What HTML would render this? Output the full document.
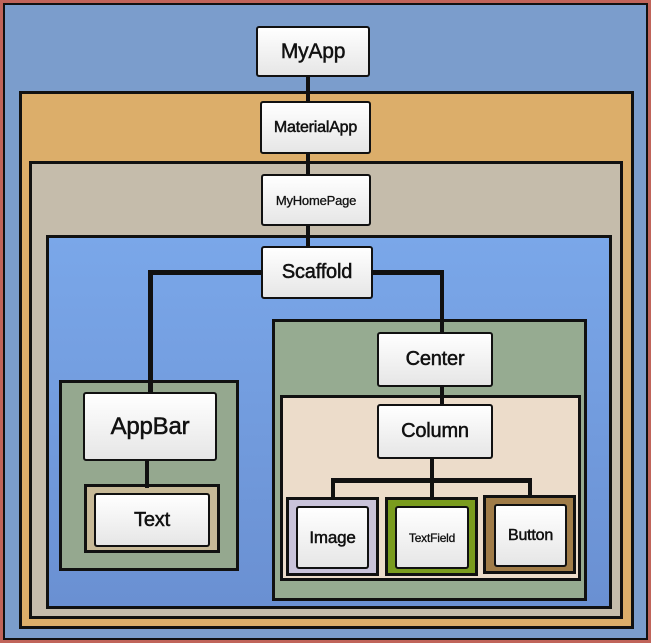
<!DOCTYPE html>
<html><head><meta charset="utf-8"><style>
html,body{margin:0;padding:0;}
body{width:651px;height:643px;position:relative;background:#c0645a;overflow:hidden;font-family:"Liberation Sans",sans-serif;}
.r{position:absolute;box-sizing:border-box;border:3px solid #111;}
.b{position:absolute;box-sizing:border-box;border:2px solid #111;border-radius:3px;background:linear-gradient(#ffffff,#e6e6e6);display:flex;align-items:center;justify-content:center;color:#111;font-weight:normal;-webkit-text-stroke:0.5px #111;letter-spacing:-0.2px;}
.l{position:absolute;background:#111;}
</style></head><body>
<div class="r" style="left:3px;top:3px;width:645px;height:637px;background:#7b9dcc;border-width:2px;"></div>
<div class="r" style="left:19px;top:91px;width:615px;height:538px;background:#dcae6a;"></div>
<div class="r" style="left:29px;top:161px;width:594px;height:458px;background:#c5bcab;"></div>
<div class="r" style="left:46px;top:235px;width:566px;height:374px;background:linear-gradient(#7aa7e9,#6a90d2);"></div>
<div class="r" style="left:59px;top:380px;width:180px;height:191px;background:#95a88f;"></div>
<div class="r" style="left:84px;top:484px;width:136px;height:69px;background:#c7b997;"></div>
<div class="r" style="left:272px;top:319px;width:315px;height:282px;background:#96ab91;"></div>
<div class="r" style="left:280px;top:395px;width:301px;height:186px;background:#ecdcca;"></div>
<div class="r" style="left:286px;top:497px;width:93px;height:79px;background:#c9c3da;"></div>
<div class="r" style="left:385px;top:497px;width:93px;height:79px;background:#7a9c1e;"></div>
<div class="r" style="left:483px;top:495px;width:93px;height:79px;background:#a07c48;"></div>
<!-- lines -->
<div class="l" style="left:306px;top:75px;width:4px;height:30px;"></div>
<div class="l" style="left:306px;top:152px;width:4px;height:26px;"></div>
<div class="l" style="left:306px;top:224px;width:4px;height:25px;"></div>
<div class="l" style="left:148px;top:270px;width:116px;height:5px;"></div>
<div class="l" style="left:148px;top:270px;width:5px;height:125px;"></div>
<div class="l" style="left:370px;top:270px;width:74px;height:5px;"></div>
<div class="l" style="left:440px;top:270px;width:4px;height:66px;"></div>
<div class="l" style="left:145px;top:458px;width:4px;height:30px;"></div>
<div class="l" style="left:440px;top:385px;width:4px;height:22px;"></div>
<div class="l" style="left:430px;top:456px;width:4px;height:44px;"></div>
<div class="l" style="left:331px;top:478px;width:201px;height:5px;"></div>
<div class="l" style="left:331px;top:478px;width:4px;height:22px;"></div>
<div class="l" style="left:528px;top:478px;width:4px;height:20px;"></div>
<!-- boxes -->
<div class="b" style="left:256px;top:26px;width:114px;height:51px;font-size:21px;">MyApp</div>
<div class="b" style="left:260px;top:101px;width:111px;height:53px;font-size:16px;">MaterialApp</div>
<div class="b" style="left:261px;top:174px;width:110px;height:52px;font-size:13px;-webkit-text-stroke:0.3px #111;">MyHomePage</div>
<div class="b" style="left:261px;top:246px;width:112px;height:53px;font-size:20px;">Scaffold</div>
<div class="b" style="left:377px;top:332px;width:116px;height:55px;font-size:20px;">Center</div>
<div class="b" style="left:83px;top:392px;width:134px;height:69px;font-size:24px;">AppBar</div>
<div class="b" style="left:94px;top:493px;width:116px;height:54px;font-size:20px;">Text</div>
<div class="b" style="left:377px;top:404px;width:116px;height:55px;font-size:20px;">Column</div>
<div class="b" style="left:296px;top:506px;width:73px;height:63px;font-size:17px;">Image</div>
<div class="b" style="left:395px;top:506px;width:74px;height:63px;font-size:12px;-webkit-text-stroke:0.3px #111;">TextField</div>
<div class="b" style="left:494px;top:504px;width:73px;height:63px;font-size:16px;">Button</div>
</body></html>
